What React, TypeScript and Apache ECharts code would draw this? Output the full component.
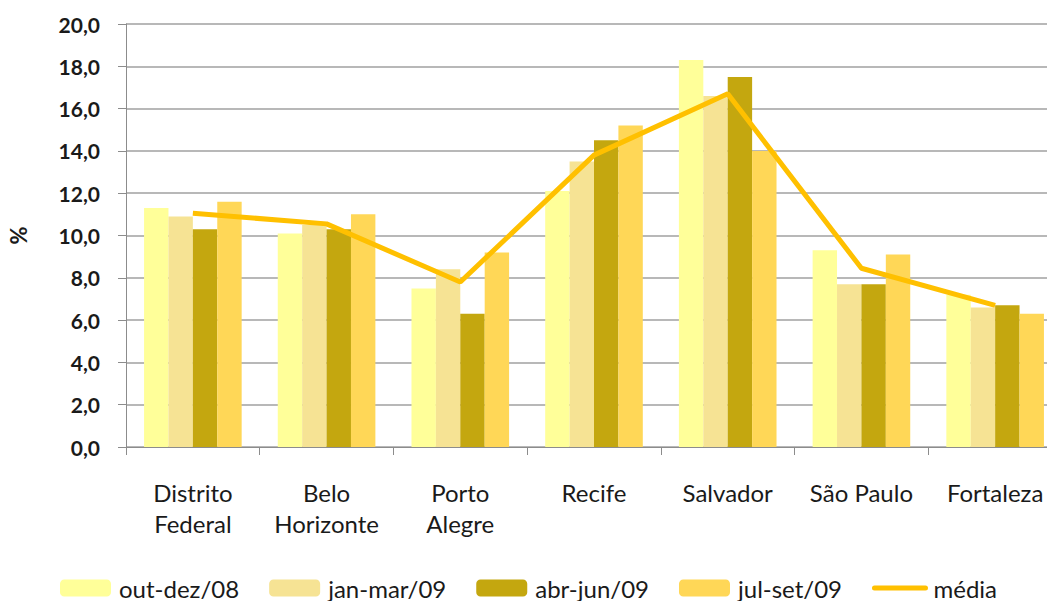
import React, { useEffect, useRef } from "react";
import * as echarts from "echarts";

const categories = [
  "Distrito\nFederal",
  "Belo\nHorizonte",
  "Porto\nAlegre",
  "Recife",
  "Salvador",
  "São Paulo",
  "Fortaleza",
];
const outDez08 = [11.3, 10.1, 7.5, 12.1, 18.3, 9.3, 7.2];
const janMar09 = [10.9, 10.5, 8.4, 13.5, 16.6, 7.7, 6.6];
const abrJun09 = [10.3, 10.3, 6.3, 14.5, 17.5, 7.7, 6.7];
const julSet09 = [11.6, 11.0, 9.2, 15.2, 14.0, 9.1, 6.3];
const media = [11.05, 10.55, 7.8, 13.8, 16.7, 8.45, 6.7];

const seriesNames = ["out-dez/08", "jan-mar/09", "abr-jun/09", "jul-set/09", "média"];
const yTicks = { min: 0, max: 20, interval: 2 };

export default function App() {
  const ref = useRef<HTMLDivElement>(null);
  useEffect(() => {
    if (!ref.current) return;
    const chart = echarts.init(ref.current, undefined, { renderer: "svg" });
    const font = "Lato";
    const barColors = ["#FFFF99", "#F6E394", "#C4A70F", "#FFD757"];
    const barData = [outDez08, janMar09, abrJun09, julSet09];
    chart.setOption({
      animation: false,
      backgroundColor: "#ffffff",
      textStyle: { fontFamily: font },
      grid: {
        left: 126,
        top: 24,
        bottom: 154,
        right: -15,
        containLabel: false,
        outerBoundsMode: "none",
      },
      legend: {
        left: 55,
        top: 571,
        itemWidth: 51,
        itemHeight: 17,
        itemGap: 30,
        textStyle: { fontFamily: font, fontSize: 24, color: "#1a1a1a", padding: [0, 0, 0, 3] },
        data: seriesNames.map((n, i) =>
          i === 4
            ? { name: n, itemStyle: { opacity: 0 }, lineStyle: { width: 5, cap: "round" } }
            : { name: n }
        ),
      },
      xAxis: {
        type: "category",
        data: categories,
        axisLine: { show: true, lineStyle: { color: "#8c8c8c", width: 1 } },
        axisTick: { show: true, length: 8, alignWithLabel: false, lineStyle: { color: "#8c8c8c" } },
        axisLabel: {
          fontFamily: font,
          fontSize: 24,
          color: "#1a1a1a",
          lineHeight: 31,
          margin: 30,
          interval: 0,
        },
      },
      yAxis: {
        type: "value",
        min: yTicks.min,
        max: yTicks.max,
        interval: yTicks.interval,
        name: "%",
        nameLocation: "middle",
        nameGap: 97,
        nameRotate: 90,
        nameTextStyle: { fontFamily: font, fontSize: 22, fontWeight: "bold", color: "#1a1a1a" },
        axisLine: { show: true, lineStyle: { color: "#8c8c8c", width: 1 } },
        axisTick: { show: true, length: 8, lineStyle: { color: "#8c8c8c" } },
        splitLine: { show: true, lineStyle: { color: "#a0a0a0", width: 1.5 } },
        axisLabel: {
          fontFamily: font,
          fontSize: 21,
          fontWeight: "bold",
          color: "#1a1a1a",
          margin: 26,
          formatter: (v: number) => v.toFixed(1).replace(".", ","),
        },
      },
      series: [
        ...barData.map((d, i) => ({
          name: seriesNames[i],
          type: "bar",
          data: d,
          barGap: "0%",
          barCategoryGap: "27%",
          itemStyle: { color: barColors[i] },
        })),
        {
          name: seriesNames[4],
          type: "line",
          data: media,
          symbol: "none",
          z: 5,
          lineStyle: { color: "#FFC000", width: 5 },
          itemStyle: { color: "#FFC000" },
        },
      ],
    });
    return () => chart.dispose();
  }, []);
  return (
    <div
      ref={ref}
      style={{ position: "absolute", left: 0, top: 0, width: 1047, height: 601 }}
    />
  );
}
